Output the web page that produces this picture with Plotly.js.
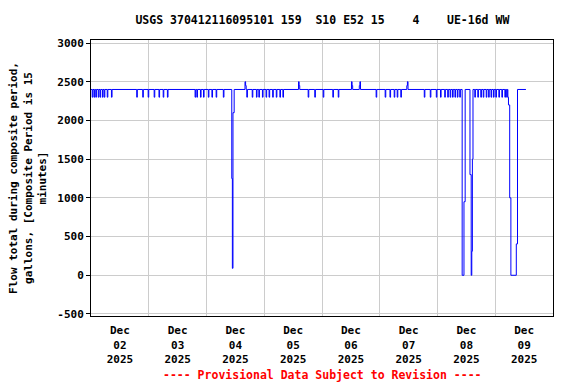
<!DOCTYPE html>
<html>
<head>
<meta charset="utf-8">
<script src="https://cdn.plot.ly/plotly-3.0.1.min.js"></script>
<style>html,body{margin:0;padding:0;background:#fff;}#chart{width:576px;height:384px;}</style>
</head>
<body>
<div id="chart"></div>
<script>
// 15-minute composite flow totals (gallons), step breakpoints per day
const times02 = ['00:00','00:30','00:45','01:15','01:30','02:00','02:15','03:00','03:15','03:45','04:00','04:45','05:00','05:30','05:45','06:45','07:00','08:30','08:45','19:00','19:15','21:30','21:45','23:45'];
const flow02  = [2400,2300,2400,2300,2400,2300,2400,2300,2400,2300,2400,2300,2400,2300,2400,2300,2400,2300,2400,2300,2400,2300,2400,2300];

const times03 = ['00:00','02:15','02:30','04:15','04:30','06:00','06:15','07:45','08:00','19:15','19:30','20:00','20:15','21:30','21:45','22:45','23:00'];
const flow03  = [2400,2300,2400,2300,2400,2300,2400,2300,2400,2300,2400,2300,2400,2300,2400,2300,2400];

const times04 = ['00:45','01:00','02:15','02:30','04:00','04:15','07:00','07:15','10:30','10:45','11:00','11:30','16:00','16:15','16:30','16:45','17:00','19:00','19:15','20:45','21:00','21:45','22:00','23:15','23:30'];
const flow04  = [2300,2400,2300,2400,2300,2400,2300,2400,1250,90,2100,2400,2500,2450,2400,2300,2400,2300,2400,2300,2400,2300,2400,2300,2400];

const times05 = ['00:45','01:00','02:00','02:15','03:30','03:45','05:00','05:15','06:30','06:45','07:45','08:00','14:15','14:30','14:45','18:15','18:30','21:00','21:15'];
const flow05  = [2300,2400,2300,2400,2300,2400,2300,2400,2300,2400,2300,2400,2500,2450,2400,2300,2400,2300,2400];

const times06 = ['00:30','00:45','04:30','04:45','06:45','07:00','12:15','12:30','12:45','15:30','15:45','16:00','22:30','22:45'];
const flow06  = [2300,2400,2300,2400,2300,2400,2500,2450,2400,2450,2500,2400,2300,2400];

const times07 = ['02:15','02:30','04:15','04:30','06:00','06:15','07:15','07:30','08:45','09:00','11:15','11:30','11:45','18:30','18:45','21:00','21:15','23:30','23:45'];
const flow07  = [2300,2400,2300,2400,2300,2400,2300,2400,2300,2400,2450,2500,2400,2300,2400,2300,2400,2300,2400];

const times08 = ['01:15','01:30','03:00','03:15','04:15','04:30','05:15','05:30','06:15','06:30','07:15','07:30','08:15','08:30','09:15','09:30','10:15','11:00','11:30','13:30','14:00','14:15','14:30','14:45','15:30','15:45','16:45','17:00','18:00','18:15','19:00','19:15','20:15','20:30','21:15','21:30','22:15','22:30','23:15','23:30'];
const flow08  = [2300,2400,2300,2400,2300,2400,2300,2400,2300,2400,2300,2400,2300,2400,2300,2400,0,950,2400,1300,0,310,1500,2400,2300,2400,2300,2400,2300,2400,2300,2400,2300,2400,2300,2400,2300,2400,2300,2400];

const times09 = ['00:15','00:30','01:30','01:45','02:45','03:00','04:00','04:15','04:45','05:00','05:15','05:30','06:00','06:30','08:45','09:15','12:45'];
const flow09  = [2300,2400,2300,2400,2300,2400,2300,2400,2300,2400,2300,2200,1000,0,405,2400,2400];

const yTickVals = [-500,0,500,1000,1500,2000,2500,3000];
const yTickText = ['-500','0','500','1000','1500','2000','2500','3000'];

const days = [['02',times02,flow02],['03',times03,flow03],['04',times04,flow04],['05',times05,flow05],
              ['06',times06,flow06],['07',times07,flow07],['08',times08,flow08],['09',times09,flow09]];
const x = [], y = [];
days.forEach(([d, ts, fs]) => { ts.forEach((t, i) => { x.push('2025-12-' + d + ' ' + t); y.push(fs[i]); }); });

const F = 'DejaVu Sans Mono, monospace';
const nb = s => s.replace(/ /g, '\u00a0');

Plotly.newPlot('chart', [{
  x: x, y: y, type: 'scatter', mode: 'lines',
  line: {color: '#0000ff', width: 1, shape: 'hv'},
  hoverinfo: 'skip'
}], {
  width: 576, height: 384,
  margin: {l: 91, r: 23, t: 40, b: 68},
  paper_bgcolor: '#ffffff', plot_bgcolor: '#ffffff',
  showlegend: false,
  font: {family: F, size: 11, color: '#000', weight: 'bold'},
  title: {text: nb('USGS 370412116095101 159  S10 E52 15    4    UE-16d WW'),
          font: {family: F, size: 11.5, color: '#000', weight: 'bold'},
          x: 0.5597, xanchor: 'center', y: 1 - 20/384, yanchor: 'middle', yref: 'container'},
  xaxis: {
    type: 'date', range: ['2025-12-02 00:00', '2025-12-10 00:00'],
    tick0: '2025-12-02', dtick: 86400000, ticklabelmode: 'period',
    tickformat: '%b<br>%d<br>%Y', ticklabelstandoff: 4,
    showgrid: true, gridcolor: '#cccccc', gridwidth: 1,
    showline: true, mirror: true, linecolor: '#000', linewidth: 1,
    ticks: '', tickfont: {family: F, size: 11, color: '#000', weight: 'bold'},
    zeroline: false
  },
  yaxis: {
    range: [-526, 3039], tickvals: yTickVals, ticktext: yTickText,
    showgrid: true, gridcolor: '#cccccc', gridwidth: 1,
    showline: true, mirror: true, linecolor: '#000', linewidth: 1,
    ticks: 'outside', ticklen: 4, tickcolor: '#000',
    tickfont: {family: F, size: 11, color: '#000', weight: 'bold'},
    zeroline: false,
    title: {text: 'Flow total during composite period,<br>gallons, [Composite Period is 15<br>minutes]',
            font: {family: F, size: 11, color: '#000', weight: 'bold'}, standoff: 8}
  },
  annotations: [{
    text: '---- Provisional Data Subject to Revision ----',
    xref: 'paper', yref: 'paper', x: 0.5, y: (316 - 375) / 276,
    xanchor: 'center', yanchor: 'middle', showarrow: false,
    font: {family: F, size: 11.5, color: '#ff0000', weight: 'bold'}
  }]
}, {staticPlot: true, displayModeBar: false});
</script>
</body>
</html>
